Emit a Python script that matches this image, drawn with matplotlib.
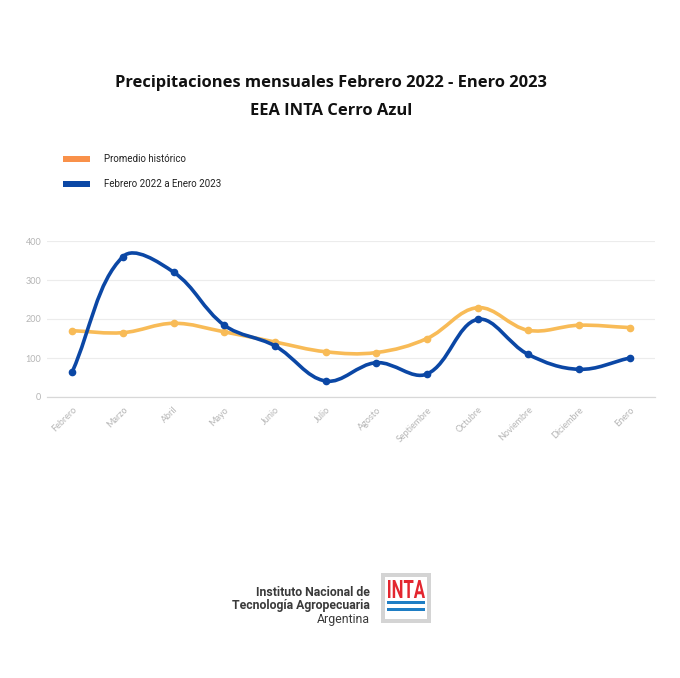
import matplotlib
matplotlib.use("Agg")
import matplotlib.pyplot as plt
from matplotlib.path import Path
from matplotlib.patches import PathPatch, Rectangle
from matplotlib.textpath import TextPath
from matplotlib.font_manager import FontProperties
from matplotlib.transforms import Affine2D
import numpy as np

months = ["Febrero", "Marzo", "Abril", "Mayo", "Junio", "Julio", "Agosto",
          "Septiembre", "Octubre", "Noviembre", "Diciembre", "Enero"]
promedio = [170, 165, 189, 167, 141, 116, 114, 150, 229, 171, 184, 178]
periodo = [65, 360, 320, 184, 131, 41, 88, 59, 199, 109, 71, 100]
yticks = [0, 100, 200, 300, 400]

title_lines = ["Precipitaciones mensuales Febrero 2022 - Enero 2023", "EEA INTA Cerro Azul"]
legend_labels = ["Promedio histórico", "Febrero 2022 a Enero 2023"]

ORANGE_LINE = "#f8bb57"
ORANGE_LEG = "#f9914a"
BLUE = "#0b47a5"

W, H = 680, 678
fig = plt.figure(figsize=(W / 100, H / 100), dpi=100)
fig.patch.set_facecolor("white")

def fx(px):
    return px / W

def fy(py):
    return 1 - py / H

ax = fig.add_axes([fx(47), fy(397), fx(655) - fx(47), fy(241) - fy(397)])
ax.set_xlim(-0.5, len(months) - 0.5)
ax.set_ylim(0, 400)

# pixel scale for spline tension computation
sx = (655 - 47) / len(months)
sy = (397 - 241) / 400.0


def spline_path(xs, ys, t=0.37):
    xs = np.asarray(xs, float)
    ys = np.asarray(ys, float)
    n = len(xs)
    px = xs * sx
    py = ys * sy
    cp_prev = []
    cp_next = []
    for i in range(n):
        p0 = i - 1 if i > 0 else i
        p2 = i + 1 if i < n - 1 else i
        d01 = np.hypot(px[i] - px[p0], py[i] - py[p0])
        d12 = np.hypot(px[p2] - px[i], py[p2] - py[i])
        tot = d01 + d12
        s01 = d01 / tot if tot else 0
        s12 = d12 / tot if tot else 0
        fa = t * s01
        fb = t * s12
        dx = px[p2] - px[p0]
        dy = py[p2] - py[p0]
        cp_prev.append((px[i] - fa * dx, py[i] - fa * dy))
        cp_next.append((px[i] + fb * dx, py[i] + fb * dy))
    verts = [(xs[0], ys[0])]
    codes = [Path.MOVETO]
    for i in range(n - 1):
        c1 = cp_next[i]
        c2 = cp_prev[i + 1]
        verts += [(c1[0] / sx, c1[1] / sy), (c2[0] / sx, c2[1] / sy), (xs[i + 1], ys[i + 1])]
        codes += [Path.CURVE4] * 3
    return Path(verts, codes)


x = np.arange(len(months))
for vals, col, z in [(promedio, ORANGE_LINE, 2), (periodo, BLUE, 3)]:
    ax.add_patch(PathPatch(spline_path(x, vals), facecolor="none", edgecolor=col,
                           lw=2.6, zorder=z, capstyle="round", joinstyle="round"))
    ax.plot(x, vals, "o", color=col, ms=4.5, zorder=z + 0.5)

ax.set_yticks(yticks)
ax.set_yticklabels([str(v) for v in yticks])
ax.set_xticks(x)
ax.set_xticklabels(months, rotation=45, ha="right", rotation_mode="anchor")
ax.tick_params(axis="both", length=0, colors="#b5b5b5", labelsize=6.5)
ax.tick_params(axis="y", pad=4)
ax.tick_params(axis="x", pad=6)
for lab in ax.get_xticklabels() + ax.get_yticklabels():
    lab.set_fontfamily("Lato")
ax.grid(axis="y", color="#ececec", lw=0.8)
ax.set_axisbelow(True)
for s in ["top", "right", "left"]:
    ax.spines[s].set_visible(False)
ax.spines["bottom"].set_color("#d8d8d8")
ax.spines["bottom"].set_linewidth(0.9)

# Title
for line, yy in zip(title_lines, [83, 111]):
    fig.text(fx(331), fy(yy), line, ha="center", va="center", fontsize=11.85,
             fontweight="bold", family="Open Sans", color="#111111")

# Legend
for i, (lab, col) in enumerate(zip(legend_labels, [ORANGE_LEG, BLUE])):
    yy = 159 + i * 25
    fig.patches.append(Rectangle((fx(63), fy(yy + 3)), fx(90) - fx(63), fy(yy - 3) - fy(yy + 3),
                                 transform=fig.transFigure, facecolor=col, edgecolor="none"))
    fig.text(fx(104), fy(yy), lab, ha="left", va="center", fontsize=7.0,
             family="Roboto", color="#222222")

# Logo text
fig.text(fx(370), fy(593), "Instituto Nacional de", ha="right", va="center", fontsize=8.8,
         fontweight="bold", family="Roboto", color="#3a3a3a")
fig.text(fx(370), fy(606), "Tecnología Agropecuaria", ha="right", va="center", fontsize=8.8,
         fontweight="bold", family="Roboto", color="#3a3a3a")
fig.text(fx(370), fy(619), "Argentina", ha="right", va="center", fontsize=8.8,
         family="Roboto", color="#3a3a3a")

# Logo box
def frect(x0, y0, x1, y1, col):
    fig.patches.append(Rectangle((fx(x0), fy(y1)), fx(x1) - fx(x0), fy(y0) - fy(y1),
                                 transform=fig.transFigure, facecolor=col, edgecolor="none"))

frect(381, 573, 431, 623, "#d4d4d4")
frect(385, 577, 427, 619, "#ffffff")

# condensed "INTA" wordmark
tp = TextPath((0, 0), "INTA", size=10, prop=FontProperties(family="Roboto", weight="bold"))
bb = tp.get_extents()
tx0, tx1, ty0, ty1 = 388, 425, 580, 598
trf = (Affine2D().translate(-bb.x0, -bb.y0)
       .scale((tx1 - tx0) / bb.width, (ty1 - ty0) / bb.height)
       .translate(tx0, H - ty1))
tp2 = trf.transform_path(tp)
fig.patches.append(PathPatch(tp2, transform=Affine2D().scale(1 / W, 1 / H) + fig.transFigure,
                             facecolor="#e3262f", edgecolor="none"))
frect(387, 601, 425, 604, "#1f7ec4")
frect(387, 608, 425, 611, "#1f7ec4")

fig.savefig("out.png", dpi=100, facecolor="white")
